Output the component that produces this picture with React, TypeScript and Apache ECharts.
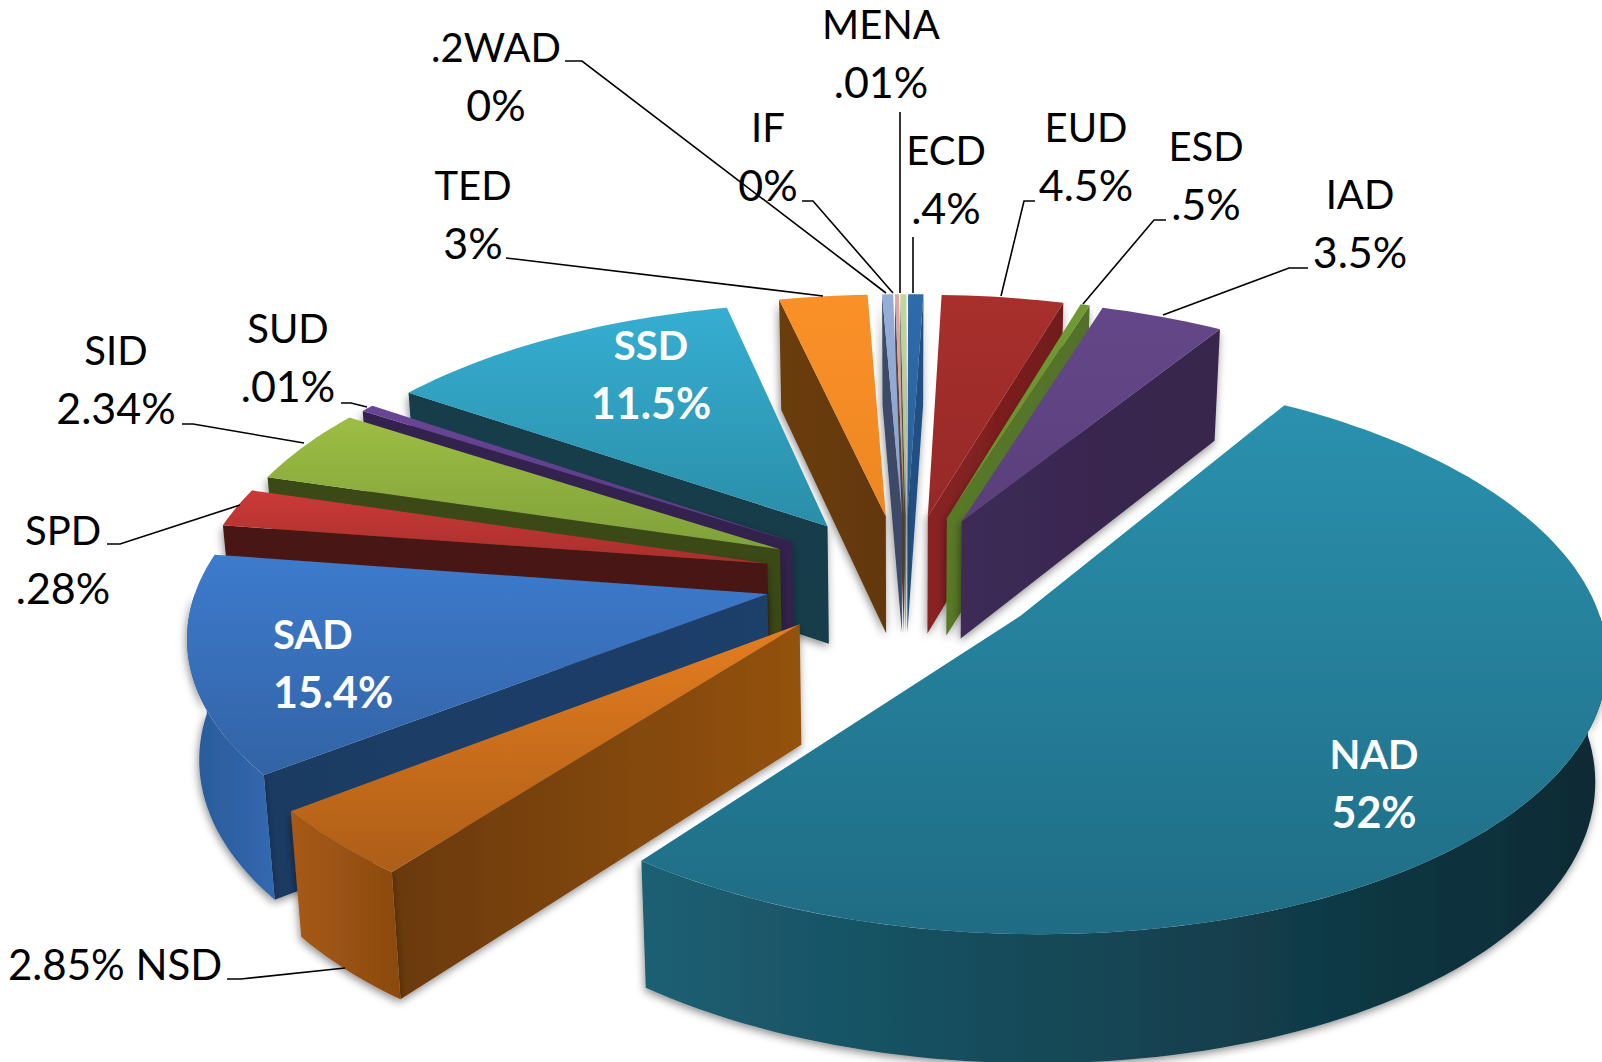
import React, { useEffect, useRef } from "react";
import * as echarts from "echarts";

// Slices, clockwise, starting at the NAD slice
const categories = ["NAD","NSD","SAD","SPD","SID","SUD","SSD","TED",".2WAD","IF","MENA","ECD","EUD","ESD","IAD"];
// printed value of each slice
const printedValues = ["52%","2.85%","15.4%",".28%","2.34%",".01%","11.5%","3%","0%","0%",".01%",".4%","4.5%",".5%","3.5%"];
// share of the circle as drawn in the picture (percent)
const drawnShares = [51.47,4.05,12.9,2.3,4.5,0.45,11.8,2.9,0.36,0.13,0.2,0.5,4.0,0.3,4.05];

const paintOrder = ["ECD","MENA","IF",".2WAD","TED","EUD","ESD","IAD","SSD","SUD","SID","SPD","SAD","NSD","NAD"];

// top light, top dark, outer wall a, outer wall b, cut face a, cut face b
const palette: Record<string, string[]> = {
  NAD: ["#2a91ae","#1f6c84","#1c5f73","#0c2a33","#123c4a","#123c4a"],
  NSD: ["#e57d20","#ad5e17","#a85a14","#8a4a10","#6a390d","#94520f"],
  SAD: ["#3d7bcd","#3263a5","#2a5a98","#3268b0","#1d3b63","#1f3f6a"],
  SPD: ["#cb3a37","#a82f2e","#8a2421","#8a2421","#4a1512","#4a1512"],
  SID: ["#9dbd43","#7fa13a","#5d7626","#5d7626","#3a4a15","#3a4a15"],
  SUD: ["#6a4596","#5a3a85","#33204e","#33204e","#33204e","#33204e"],
  SSD: ["#36aed2","#2a8ea8","#125060","#125060","#123c4a","#123c4a"],
  TED: ["#fa9028","#ee8722","#8a4d10","#8a4d10","#6b3c0d","#63380e"],
  ".2WAD": ["#95aed8","#8aa4cf","#3d4a66","#3d4a66","#3d4a66","#3d4a66"],
  IF: ["#d9a9a8","#c99a99","#5c4540","#5c4540","#5c4540","#5c4540"],
  MENA: ["#c3d69b","#b6ca8e","#55604a","#55604a","#55604a","#55604a"],
  ECD: ["#2e6bab","#2a609b","#234f83","#234f83","#234f83","#234f83"],
  EUD: ["#a82f2c","#952927","#75191b","#75191b","#8a2422","#701a1c"],
  ESD: ["#6f9a33","#678f2f","#536f27","#536f27","#587a28","#52702a"],
  IAD: ["#644788","#5a3f7c","#3a2850","#3a2850","#3c2a55","#37254c"],
};

const startAngle = 32;
const explode = 0.25;
const view = { cx: 899, cy: 580, kx: 568, ky: 266, depth: 7.65, height: 119, taper: 0.017 };
// small on-screen offsets of the pulled-out slices (px)
const sliceNudge: Record<string, number[]> = {
  TED: [5, 0], ".2WAD": [7, 0], IF: [7, 0], MENA: [7, 0], ECD: [6, 0], EUD: [7, 0], ESD: [8, 0], IAD: [5, 0],
  SSD: [6, 0], SUD: [9, -2], SID: [8, -3], SPD: [6, -2], SAD: [7, -3], NSD: [3, -4], NAD: [3, -3],
};

const total = drawnShares.reduce((a, b) => a + b, 0);
function sliceAngles(i: number) {
  let before = 0;
  for (let k = 0; k < i; k++) before += drawnShares[k];
  const a0 = startAngle + (before / total) * 360;
  return [a0, a0 + (drawnShares[i] / total) * 360];
}
function project(X: number, Y: number, z: number, nudge: number[]) {
  const s = view.depth / (view.depth - Y);
  const x = view.kx * X * s * (1 - view.taper * z);
  const y = view.ky * Y * s + view.height * z * Math.sqrt(s);
  return [view.cx + x + nudge[0], view.cy + y + nudge[1]];
}
const rad = (d: number) => (d * Math.PI) / 180;
const lin = (a: string, b: string, horizontal: boolean) =>
  new echarts.graphic.LinearGradient(0, 0, horizontal ? 1 : 0, horizontal ? 0 : 1, [
    { offset: 0, color: a },
    { offset: 1, color: b },
  ]);

function renderSlice(params: any, api: any) {
  const name = paintOrder[params.dataIndex];
  const idx = categories.indexOf(name);
  const [a0, a1] = sliceAngles(idx);
  const mid = rad((a0 + a1) / 2);
  const ox = Math.sin(mid) * explode;
  const oy = -Math.cos(mid) * explode;
  const nudge = sliceNudge[name];
  const rim = (deg: number, z: number) => project(ox + Math.sin(rad(deg)), oy - Math.cos(rad(deg)), z, nudge);
  const apex = (z: number) => project(ox, oy, z, nudge);
  const arc = (from: number, to: number, z: number) => {
    const n = Math.max(2, Math.ceil(Math.abs(to - from) / 1.5));
    const pts: number[][] = [];
    for (let i = 0; i <= n; i++) pts.push(rim(from + ((to - from) * i) / n, z));
    return pts;
  };
  const c = palette[name];
  const children: any[] = [];
  const shadow = { shadowBlur: 8, shadowColor: "rgba(0,0,0,0.45)", shadowOffsetX: -1, shadowOffsetY: 3 };

  // cut faces that face the viewer
  if (Math.sin(rad(a0)) < 0) {
    children.push({ type: "polygon", silent: true, shape: { points: [apex(0), rim(a0, 0), rim(a0, 1), apex(1)] },
      style: { fill: lin(c[4], c[5], true), ...shadow } });
  }
  if (Math.sin(rad(a1)) > 0) {
    children.push({ type: "polygon", silent: true, shape: { points: [apex(0), rim(a1, 0), rim(a1, 1), apex(1)] },
      style: { fill: lin(c[4], c[5], true), ...shadow } });
  }
  // outer wall, only the part on the viewer's side
  const offset = Math.floor(a0 / 360) * 360;
  const from = Math.max(a0, offset + 90);
  const to = Math.min(a1, offset + 270);
  if (to > from) {
    const top = arc(from, to, 0);
    const bottom = arc(from, to, 1).reverse();
    children.push({ type: "polygon", silent: true, shape: { points: [...top, ...bottom] },
      style: { fill: lin(c[2], c[3], true), ...shadow } });
  }
  // top face
  children.push({ type: "polygon", silent: true, shape: { points: [apex(0), ...arc(a0, a1, 0)] },
    style: { fill: lin(c[0], c[1], false) } });
  return { type: "group", children };
}

const fontFamily = "Lato, Carlito, Calibri, sans-serif";
const nameSize = 40;
const valueSize = 43;
const nameRise = 28;
const valueDrop = 29;
// label layout: centre (or left edge, when left is set) of each text block
const labelLayout: any[] = [
  { name: "MENA", x: 881, y: 52 },
  { name: ".2WAD", x: 496, y: 75 },
  { name: "IF", x: 768, y: 155 },
  { name: "ECD", x: 946, y: 178 },
  { name: "EUD", x: 1086, y: 155 },
  { name: "ESD", x: 1206, y: 174 },
  { name: "IAD", x: 1360, y: 222 },
  { name: "TED", x: 473, y: 213 },
  { name: "SUD", x: 288, y: 356 },
  { name: "SID", x: 116, y: 378 },
  { name: "SPD", x: 63, y: 558 },
  { name: "SSD", x: 651, y: 373, bold: true },
  { name: "SAD", x: 273, y: 662, bold: true, left: true },
  { name: "NAD", x: 1374, y: 782, bold: true },
];
const leaderLines: number[][][] = [
  [[565,61],[582,61],[886,293]],
  [[802,201],[813,201],[893,293]],
  [[900,112],[900,293]],
  [[913,237],[913,293]],
  [[1035,201],[1024,201],[1001,296]],
  [[1166,220],[1154,220],[1083,304]],
  [[1308,268],[1289,268],[1163,315]],
  [[506,258],[515,259],[823,296]],
  [[341,403],[351,403],[367,407]],
  [[182,424],[193,424],[304,443]],
  [[107,544],[120,544],[240,505]],
  [[227,979],[241,979],[345,968]],
];

export default function App() {
  const ref = useRef<HTMLDivElement>(null);
  useEffect(() => {
    document.body.style.margin = "0";
    const chart = echarts.init(ref.current!, undefined, { renderer: "svg" });
    const textEl = (text: string, x: number, y: number, size: number, bold: boolean, left: boolean) => ({
      type: "text", z: 100, x, y, silent: true,
      style: {
        text,
        fill: bold ? "#ffffff" : "#000000",
        font: `${bold ? "bold " : ""}${size}px ${fontFamily}`,
        align: left ? "left" : "center", verticalAlign: "middle",
      },
    });
    const labelEls = labelLayout.flatMap((l) => {
      const i = categories.indexOf(l.name);
      return [
        textEl(l.name, l.x, l.y - nameRise, nameSize, !!l.bold, !!l.left),
        textEl(printedValues[i], l.x, l.y + valueDrop, valueSize, !!l.bold, !!l.left),
      ];
    });
    const nsdEl = textEl(`${printedValues[categories.indexOf("NSD")]} NSD`, 8, 964, 42, false, true);
    const leaderEls = leaderLines.map((pts) => ({
      type: "polyline", z: 90, silent: true,
      shape: { points: pts },
      style: { stroke: "#000000", lineWidth: 1.6, fill: "none" },
    }));
    chart.setOption({
      animation: false,
      backgroundColor: "#ffffff",
      series: [
        {
          type: "custom",
          coordinateSystem: "none",
          renderItem: renderSlice,
          silent: true,
          clip: false,
          data: paintOrder.map((n) => ({ name: n, value: [drawnShares[categories.indexOf(n)]] })),
        },
      ],
      graphic: { elements: [...leaderEls, ...labelEls, nsdEl] },
    });
    return () => chart.dispose();
  }, []);
  return <div ref={ref} style={{ position: "absolute", left: 0, top: 0, width: 1602, height: 1062 }} />;
}
